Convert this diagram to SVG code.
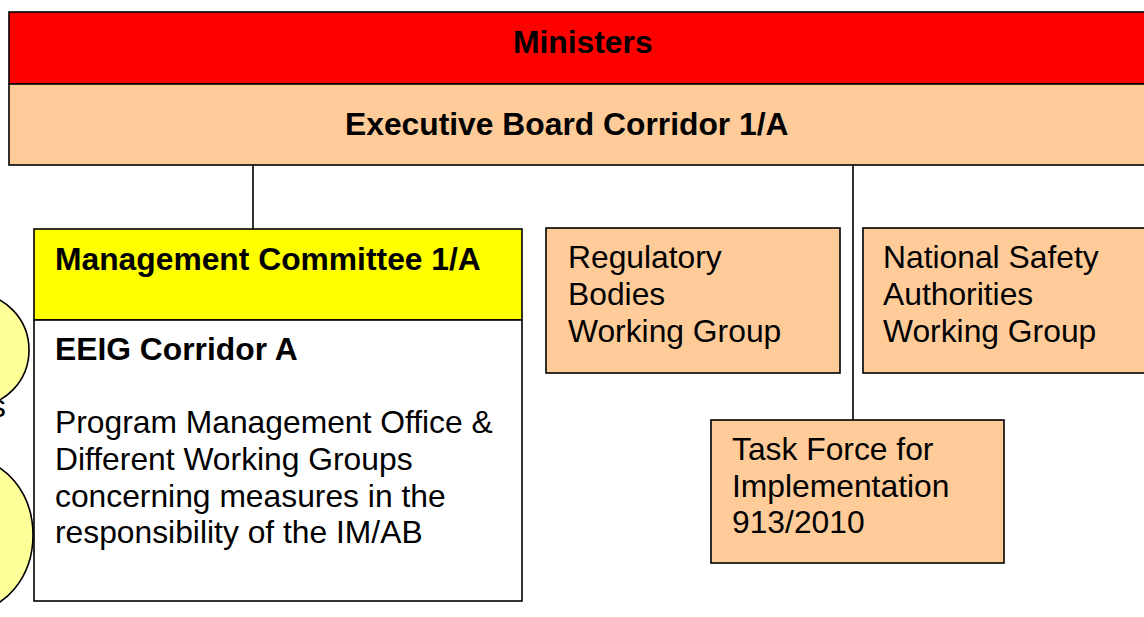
<svg xmlns="http://www.w3.org/2000/svg" width="1144" height="617" viewBox="0 0 1144 617">
<style>
.bx{stroke:#000;stroke-width:1.6}
.peach{fill:#FFCC99}
.t{font-family:"Liberation Sans",Arial,sans-serif;font-size:31.8px;fill:#000}
.b{font-weight:bold}
.ln{stroke:#000;stroke-width:1.6;fill:none}
</style>
<rect width="1144" height="617" fill="#fff"/>
<g id="side-ellipses">
<ellipse class="bx" cx="-25" cy="350" rx="54" ry="56" fill="#FFFF99"/>
<ellipse class="bx" cx="-30" cy="535" rx="63" ry="76" fill="#FFFF99"/>
<text class="t" x="-10" y="417">s</text>
</g>
<g id="connectors">
<line class="ln" x1="253" y1="165" x2="253" y2="229"/>
<line class="ln" x1="853" y1="165" x2="853" y2="420"/>
</g>
<g id="ministers">
<rect class="bx" x="9" y="12" width="1160" height="72" fill="#FF0000"/>
<text class="t b" x="513" y="53">Ministers</text>
</g>
<g id="executive-board">
<rect class="bx peach" x="9" y="84" width="1160" height="81"/>
<text class="t b" x="345" y="135">Executive Board Corridor 1/A</text>
</g>
<g id="management-committee">
<rect class="bx" x="34" y="229" width="488" height="91" fill="#FFFF00"/>
<text class="t b" x="55" y="270">Management Committee 1/A</text>
</g>
<g id="eeig">
<rect class="bx" x="34" y="320" width="488" height="281" fill="#fff"/>
<text class="t b" x="55" y="360">EEIG Corridor A</text>
<text class="t" x="55" y="433">Program Management Office &amp;</text>
<text class="t" x="55" y="470">Different Working Groups</text>
<text class="t" x="55" y="507">concerning measures in the</text>
<text class="t" x="55" y="543">responsibility of the IM/AB</text>
</g>
<g id="regulatory">
<rect class="bx peach" x="546" y="228" width="294" height="145"/>
<text class="t" x="568" y="268">Regulatory</text>
<text class="t" x="568" y="305">Bodies</text>
<text class="t" x="568" y="342">Working Group</text>
</g>
<g id="nsa">
<rect class="bx peach" x="863" y="228" width="300" height="145"/>
<text class="t" x="883" y="268">National Safety</text>
<text class="t" x="883" y="305">Authorities</text>
<text class="t" x="883" y="342">Working Group</text>
</g>
<g id="task-force">
<rect class="bx peach" x="711" y="420" width="293" height="143"/>
<text class="t" x="732" y="460">Task Force for</text>
<text class="t" x="732" y="497">Implementation</text>
<text class="t" x="732" y="533">913/2010</text>
</g>
</svg>
